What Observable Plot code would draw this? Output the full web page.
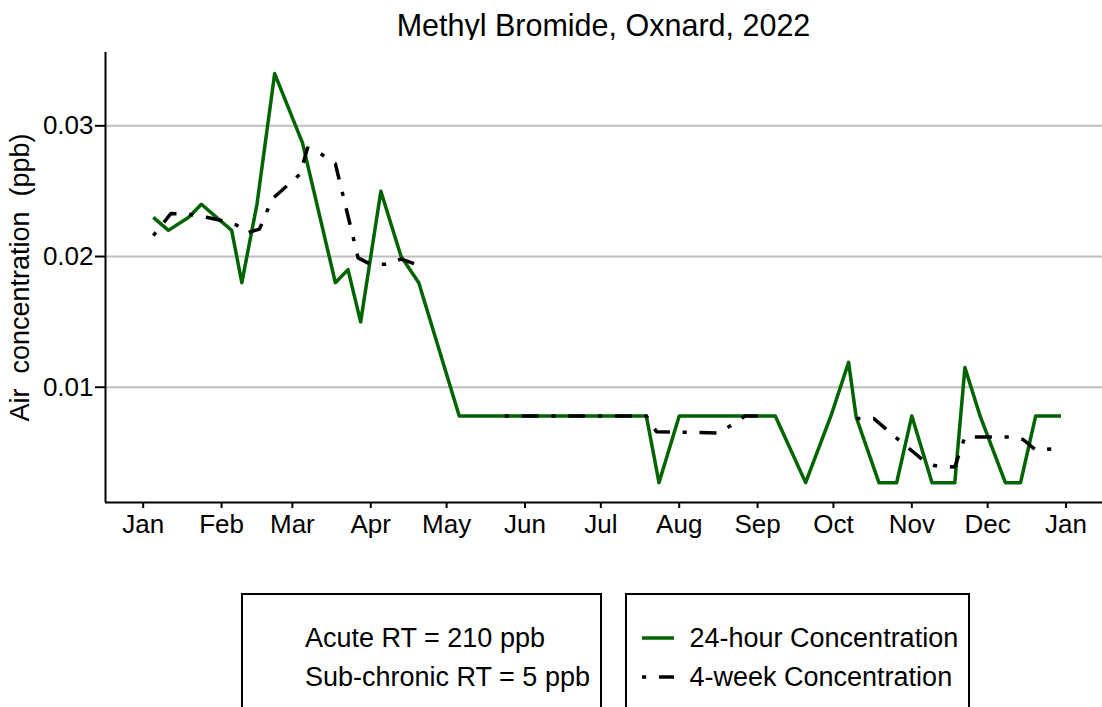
<!DOCTYPE html>
<html>
<head>
<meta charset="utf-8">
<script src="https://cdn.jsdelivr.net/npm/d3@7"></script>
<script src="https://cdn.jsdelivr.net/npm/@observablehq/plot@0.6"></script>
<style>
html, body { margin: 0; padding: 0; background: #fff; }
#wrap { position: relative; width: 1102px; height: 707px; overflow: hidden; font-family: 'Liberation Sans', Arial, sans-serif; color: #000; background: #fff; }
#title { position: absolute; left: 105px; top: 0; width: 997px; height: 40px; box-sizing: border-box; padding-top: 10px; font-size: 30.5px; line-height: 30px; text-align: center; white-space: nowrap; }
#chart { position: absolute; left: 0; top: 40px; }
#chart svg text { white-space: pre; }
.box { position: absolute; top: 593px; height: 140px; box-sizing: border-box; border: 2px solid #000; background: #fff; }
.item { position: absolute; font-size: 27px; line-height: 27px; white-space: nowrap; }
.key { position: absolute; }
</style>
</head>
<body>
<div id="wrap">
  <div id="title"></div>
  <div id="chart"></div>
  <div class="box" id="box1" style="left:241px;width:361px;"></div>
  <div class="box" id="box2" style="left:625px;width:345px;"></div>
</div>
<script>
// ---------- data ----------
const titleText = "Methyl Bromide, Oxnard, 2022";
const yLabel = "Air  concentration  (ppb)";
const noteLines = ["Acute RT = 210 ppb", "Sub-chronic RT = 5 ppb"];
const seriesNames = ["24-hour Concentration", "4-week Concentration"];

const monthTickDates = ["2022-01-01","2022-02-01","2022-03-01","2022-04-01","2022-05-01","2022-06-01",
  "2022-07-01","2022-08-01","2022-09-01","2022-10-01","2022-11-01","2022-12-01","2023-01-01"];
const monthTickLabels = ["Jan","Feb","Mar","Apr","May","Jun","Jul","Aug","Sep","Oct","Nov","Dec","Jan"];
const yTicks = [0.01, 0.02, 0.03];

// 24-hour samples
const dailyDates = ["2022-01-05","2022-01-11","2022-01-19","2022-01-24","2022-02-05","2022-02-09",
  "2022-02-15","2022-02-22","2022-03-05","2022-03-18","2022-03-23","2022-03-28","2022-04-05",
  "2022-04-13","2022-04-20","2022-05-06","2022-07-19","2022-07-24","2022-08-01","2022-09-08",
  "2022-09-20","2022-09-30","2022-10-07","2022-10-10","2022-10-19","2022-10-26","2022-11-01",
  "2022-11-09","2022-11-18","2022-11-22","2022-11-28","2022-12-08","2022-12-14","2022-12-20",
  "2022-12-30"];
const dailyValues = [0.023,0.022,0.023,0.024,0.022,0.018,
  0.024,0.034,0.0287,0.018,0.019,0.015,0.025,
  0.020,0.018,0.0078,0.0078,0.0027,0.0078,0.0078,
  0.0027,0.0078,0.0119,0.0077,0.0027,0.0027,0.0078,
  0.0027,0.0027,0.0115,0.0078,0.0027,0.0027,0.0078,
  0.0078];

// 4-week concentrations (three separate runs)
const fourWeekDates = ["2022-01-05","2022-01-12","2022-01-20","2022-01-26","2022-01-31","2022-02-07",
  "2022-02-11","2022-02-16","2022-02-21","2022-03-04","2022-03-07","2022-03-12","2022-03-18",
  "2022-03-27","2022-04-01","2022-04-07","2022-04-13","2022-04-19",
  "2022-05-24","2022-07-19","2022-07-23","2022-08-17","2022-08-27","2022-09-03",
  "2022-10-10","2022-10-17","2022-10-26","2022-11-05","2022-11-10","2022-11-18","2022-11-22",
  "2022-12-10","2022-12-15","2022-12-20","2022-12-28"];
const fourWeekValues = [0.0216,0.0233,0.0232,0.0230,0.0228,0.0224,
  0.0218,0.0221,0.0244,0.0263,0.0283,0.0279,0.0271,
  0.0199,0.0194,0.0194,0.0198,0.0194,
  0.0078,0.0078,0.0066,0.0065,0.0078,0.0078,
  0.0076,0.0076,0.0061,0.0045,0.0040,0.0039,0.0062,
  0.0062,0.0060,0.0052,0.0053];
const fourWeekRun = ["A","A","A","A","A","A","A","A","A","A","A","A","A","A","A","A","A","A",
  "B","B","B","B","B","B",
  "C","C","C","C","C","C","C","C","C","C","C"];

// ---------- build ----------
const green = "#006400";
const dash = "4.2,12.7,17,12.7";
const lineW = 3.5;
const daily = dailyDates.map((d, i) => ({date: new Date(d), value: dailyValues[i]}));
const fourWeek = fourWeekDates.map((d, i) => ({date: new Date(d), value: fourWeekValues[i], run: fourWeekRun[i]}));
const tickDates = monthTickDates.map(d => new Date(d));
const labelByTime = new Map(tickDates.map((d, i) => [+d, monthTickLabels[i]]));

const xDomain = [new Date("2021-12-17T02:10:00Z"), new Date("2023-01-15T10:00:00Z")];
const yDomain = [0.00118, 0.03561];

const chart = Plot.plot({
  width: 1102,
  height: 553,
  marginLeft: 105,
  marginRight: 0,
  marginTop: 12,
  marginBottom: 91,
  style: {fontFamily: "'Liberation Sans', Arial, sans-serif", fontSize: "26px", color: "black", background: "white", overflow: "visible"},
  x: {type: "utc", domain: xDomain},
  y: {domain: yDomain},
  marks: [
    Plot.gridY(yTicks, {stroke: "#bebebe", strokeOpacity: 1, strokeWidth: 2}),
    Plot.axisY(yTicks, {
      tickFormat: d3.format(".2f"), tickSize: 10, tickPadding: 2, strokeWidth: 2, fontSize: 26,
      label: null
    }),
    Plot.axisY({
      ticks: [], label: yLabel, labelAnchor: "center", labelArrow: "none", labelOffset: 96, fontSize: 27
    }),
    Plot.axisX(tickDates, {
      tickFormat: d => labelByTime.get(+d), tickSize: 6, tickPadding: 6.5, strokeWidth: 2, fontSize: 26, label: null
    }),
    Plot.ruleX([xDomain[0]], {stroke: "black", strokeWidth: 2}),
    Plot.ruleY([yDomain[0]], {stroke: "black", strokeWidth: 2}),
    Plot.line(daily, {x: "date", y: "value", stroke: green, strokeWidth: lineW, strokeLinejoin: "round", strokeLinecap: "butt"}),
    Plot.line(fourWeek, {x: "date", y: "value", z: "run", stroke: "black", strokeWidth: lineW,
      strokeDasharray: dash, strokeLinecap: "butt", strokeLinejoin: "round"})
  ]
});
document.getElementById("chart").appendChild(chart);
document.getElementById("title").textContent = titleText;

// ---------- legend ----------
const box1 = document.getElementById("box1");
noteLines.forEach((t, i) => {
  const el = document.createElement("div");
  el.className = "item";
  el.style.left = "62px";
  el.style.top = (30 + i * 39) + "px";
  el.textContent = t;
  box1.appendChild(el);
});
const box2 = document.getElementById("box2");
const keyStyles = [{stroke: green, dasharray: null}, {stroke: "black", dasharray: dash}];
seriesNames.forEach((t, i) => {
  const k = document.createElementNS("http://www.w3.org/2000/svg", "svg");
  k.setAttribute("class", "key");
  k.setAttribute("width", "34");
  k.setAttribute("height", "10");
  k.style.left = "15px";
  k.style.top = (38 + i * 39) + "px";
  const ln = document.createElementNS("http://www.w3.org/2000/svg", "line");
  ln.setAttribute("x1", "0"); ln.setAttribute("x2", "32");
  ln.setAttribute("y1", "5"); ln.setAttribute("y2", "5");
  ln.setAttribute("stroke", keyStyles[i].stroke);
  ln.setAttribute("stroke-width", String(lineW));
  if (keyStyles[i].dasharray) ln.setAttribute("stroke-dasharray", keyStyles[i].dasharray);
  k.appendChild(ln);
  box2.appendChild(k);
  const el = document.createElement("div");
  el.className = "item";
  el.style.left = "62.5px";
  el.style.top = (30 + i * 39) + "px";
  el.textContent = t;
  box2.appendChild(el);
});
</script>
</body>
</html>
